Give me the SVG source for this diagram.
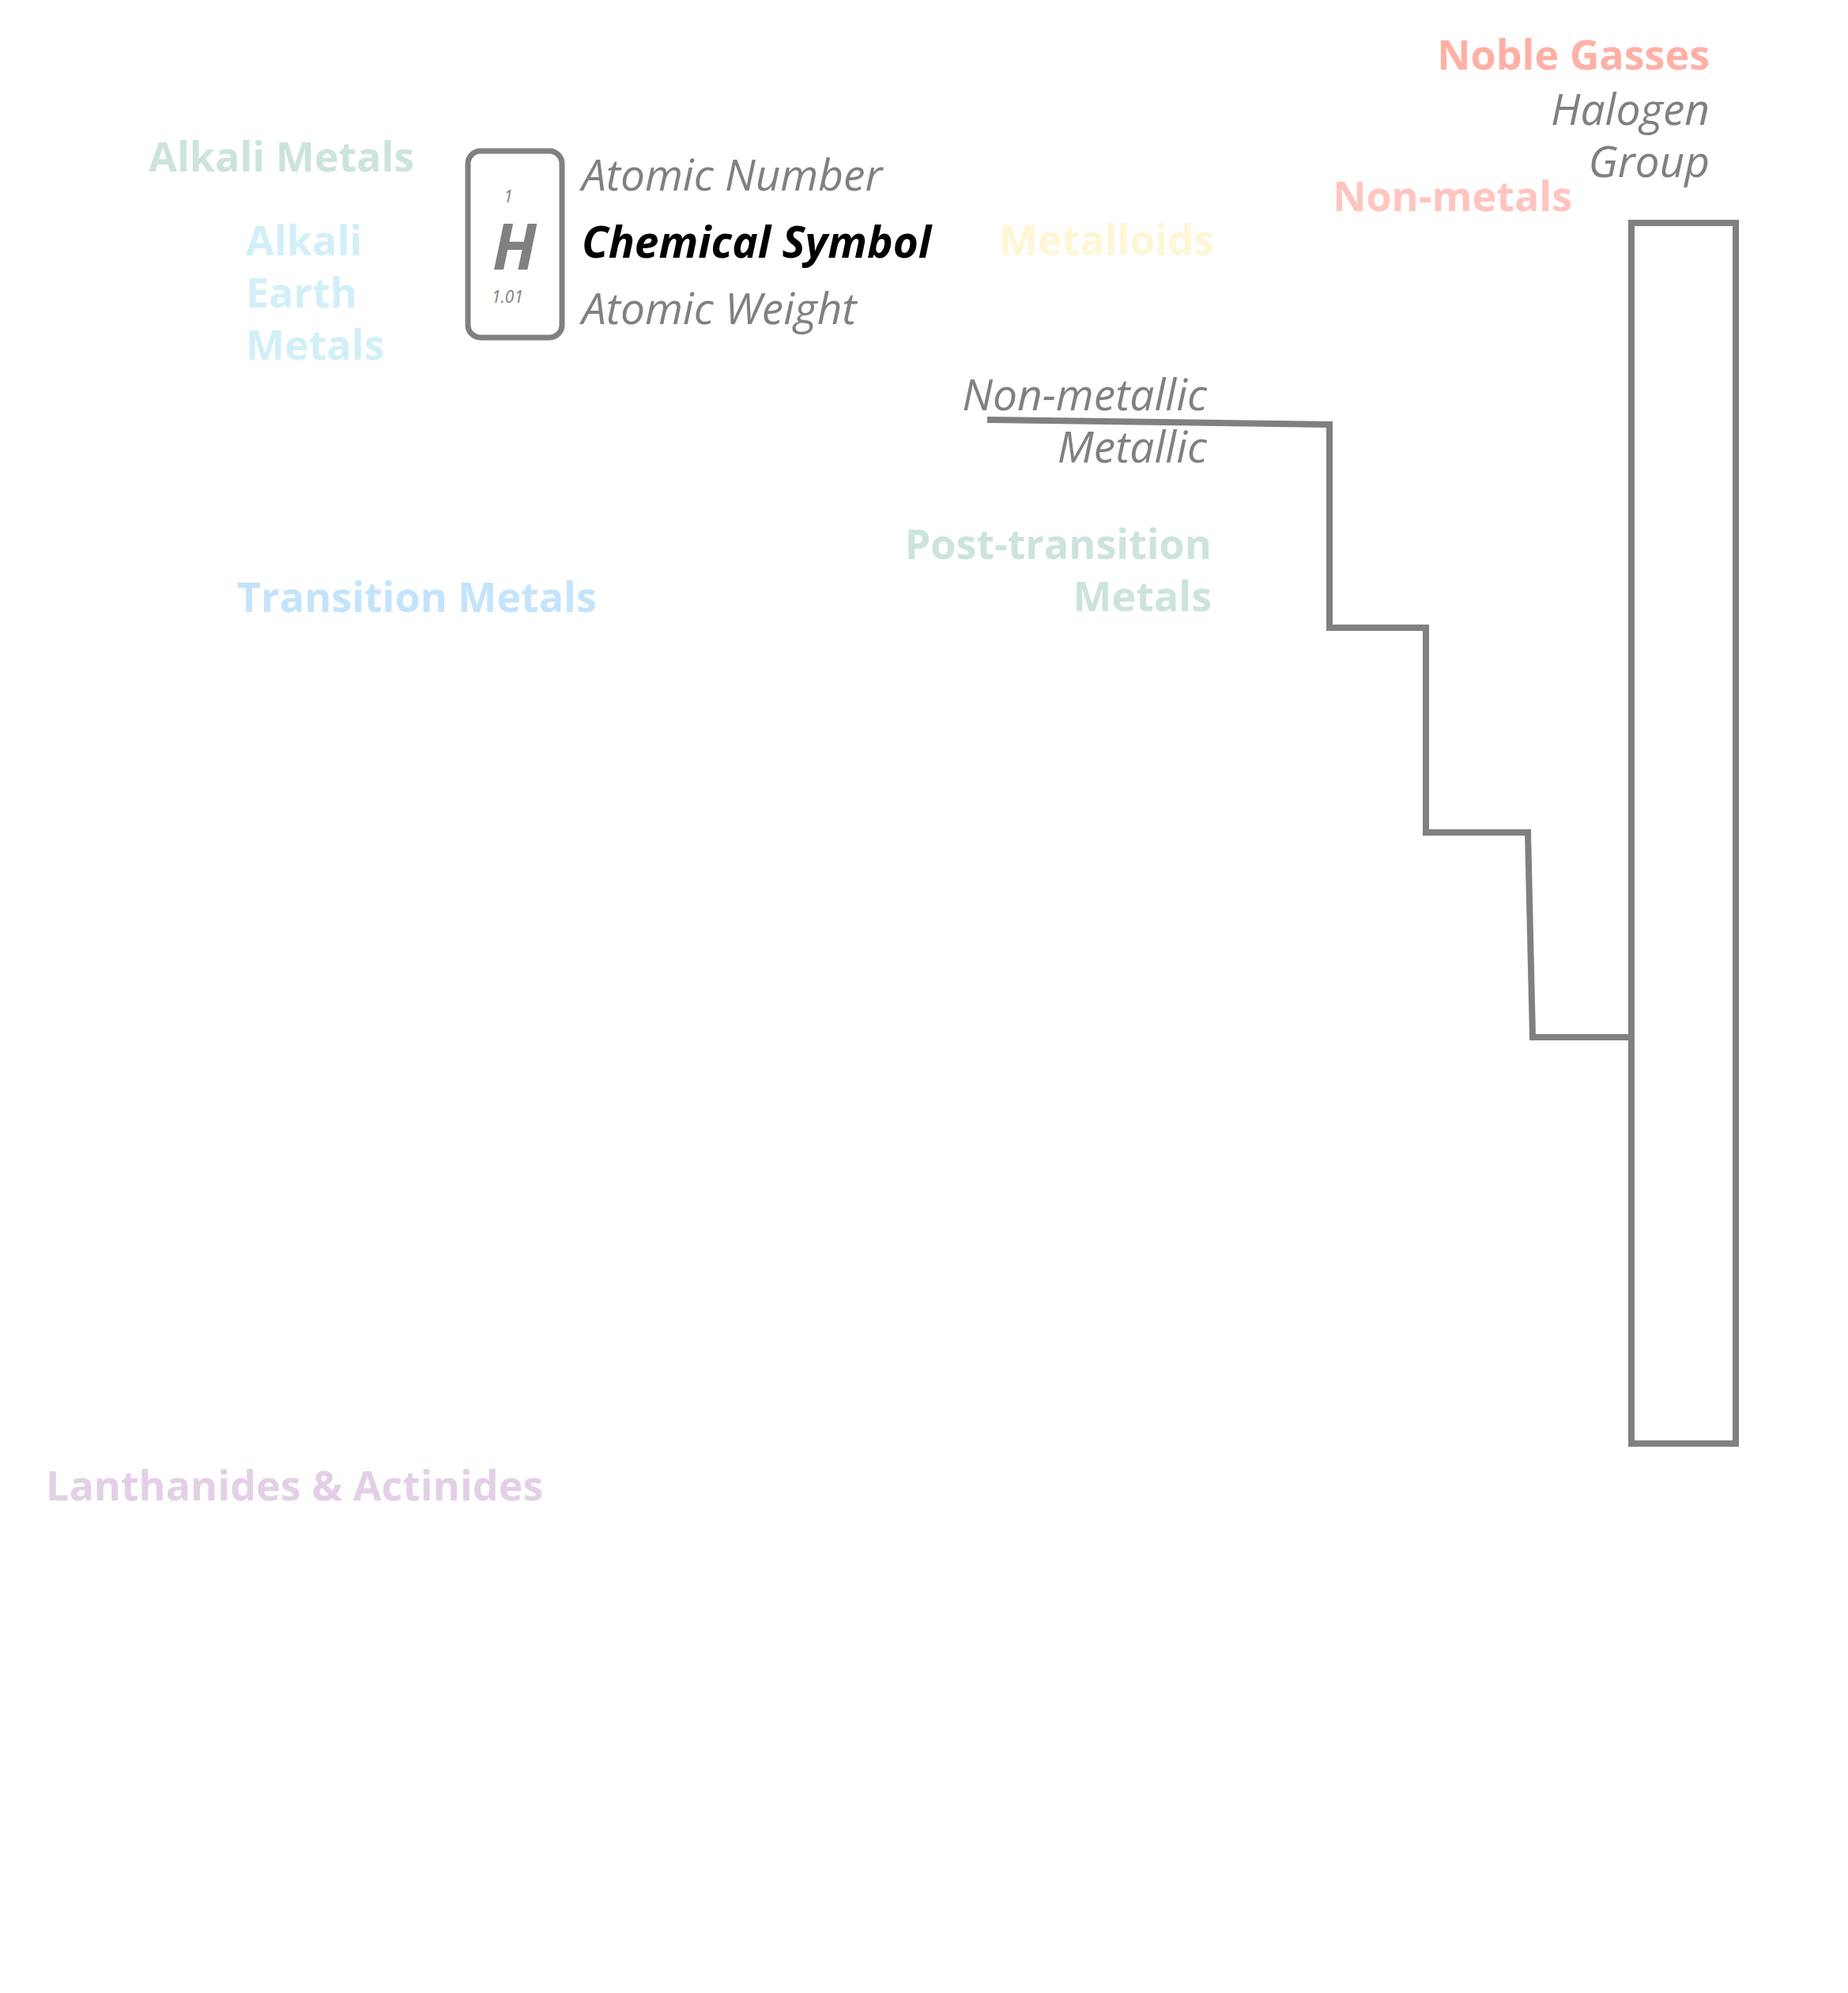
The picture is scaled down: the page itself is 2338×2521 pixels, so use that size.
<svg xmlns="http://www.w3.org/2000/svg" width="2338" height="2521" viewBox="0 0 2338 2521">
<style>
.b{font-family:"Open Sans","Liberation Sans",sans-serif;font-weight:700;font-size:52px}
.i{font-family:"Open Sans","Liberation Sans",sans-serif;font-style:italic;font-size:55px;fill:#808080}
.ln{fill:none;stroke:#808080;stroke-width:8}
</style>
<rect width="2338" height="2521" fill="#ffffff"/>
<g id="legend">
<rect x="592" y="191" width="119" height="236" rx="16" fill="none" stroke="#808080" stroke-width="7"/>
<text x="643" y="256" text-anchor="middle" class="i" style="font-size:21px">1</text>
<text x="651" y="341" text-anchor="middle" class="i" style="font-size:80px;font-weight:700">H</text>
<text x="642" y="383" text-anchor="middle" class="i" style="font-size:21px">1.01</text>
<text x="736" y="241" class="i">Atomic Number</text>
<text x="736" y="326" class="i" style="font-weight:700;fill:#000000">Chemical Symbol</text>
<text x="736" y="410" class="i">Atomic Weight</text>
</g>
<g id="alkali-metals"><text x="188" y="217" class="b" fill="#CCE3DE">Alkali Metals</text></g>
<g id="alkali-earth-metals">
<text x="311" y="323" class="b" fill="#D2EFF8">Alkali</text>
<text x="311" y="389" class="b" fill="#D2EFF8">Earth</text>
<text x="311" y="455" class="b" fill="#D2EFF8">Metals</text>
</g>
<g id="transition-metals"><text x="300" y="774" class="b" fill="#C3E4FB">Transition Metals</text></g>
<g id="lanthanides"><text x="58" y="1898" class="b" fill="#E3D0E6">Lanthanides &amp; Actinides</text></g>
<g id="metalloids"><text x="1536" y="322" text-anchor="end" class="b" fill="#FFF6D5">Metalloids</text></g>
<g id="post-transition">
<text x="1533" y="707" text-anchor="end" class="b" fill="#CCE3DF">Post-transition</text>
<text x="1533" y="773" text-anchor="end" class="b" fill="#CCE3DF">Metals</text>
</g>
<g id="metallic-labels">
<text x="1527" y="519" text-anchor="end" class="i">Non-metallic</text>
<text x="1527" y="585" text-anchor="end" class="i">Metallic</text>
</g>
<g id="non-metals"><text x="1989" y="267" text-anchor="end" class="b" fill="#FFC4C0">Non-metals</text></g>
<g id="noble-gasses"><text x="2163" y="88" text-anchor="end" class="b" fill="#FFB0A5">Noble Gasses</text></g>
<g id="halogen">
<text x="2163" y="158" text-anchor="end" class="i">Halogen</text>
<text x="2163" y="224" text-anchor="end" class="i">Group</text>
</g>
<g id="connectors">
<path class="ln" d="M1249,531 L1682,537 L1682,794 L1804,794 L1804,1053 L1933,1053 L1939,1312 L2064,1312"/>
<rect class="ln" x="2064" y="282" width="132" height="1544"/>
</g>
</svg>
